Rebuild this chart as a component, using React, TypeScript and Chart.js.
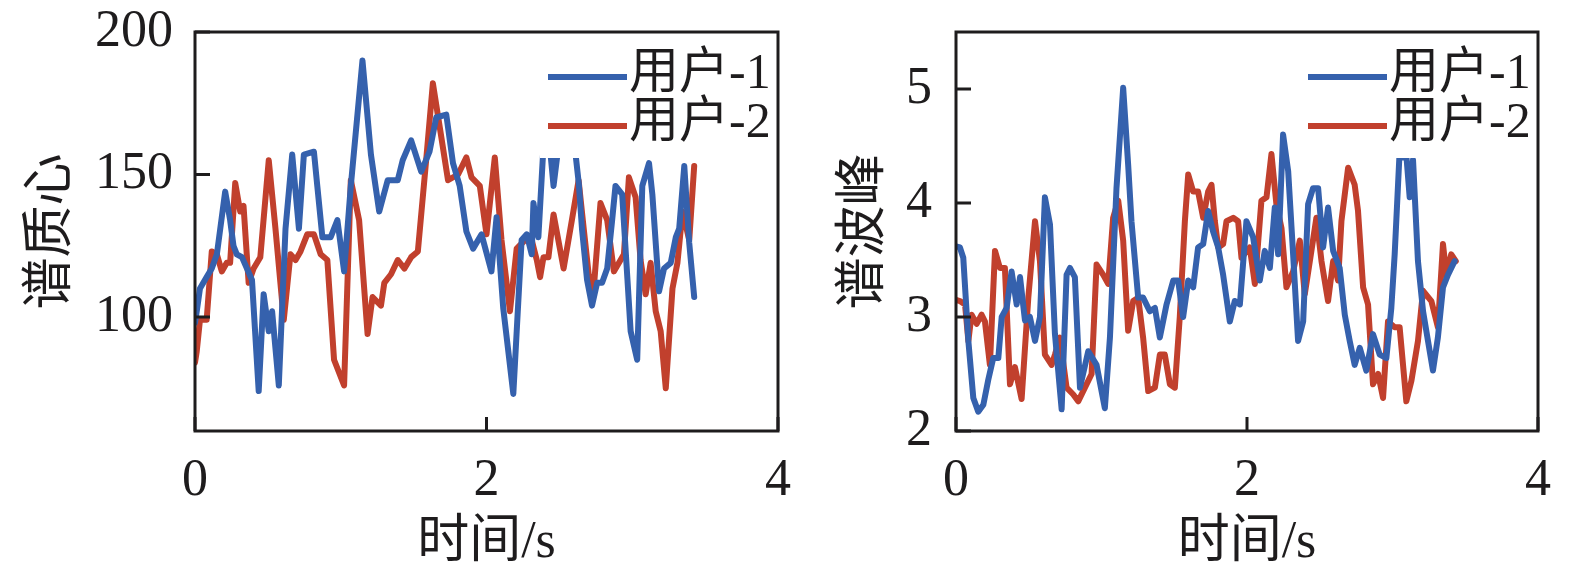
import { useEffect, useRef } from "react";
import { Chart, registerables } from "chart.js";
import type { Plugin, Scale } from "chart.js";
Chart.register(...registerables);

const timeTicks = [0, 2, 4];
const centroidTicks = [100, 150, 200];
const peakTicks = [2, 3, 4, 5];
const legendLabels = ["用户-1", "用户-2"];
const lineColors = ["#3561ad", "#c1402d"];

// 谱质心
const centroidTime1 = [0, 0.012, 0.034, 0.08, 0.115, 0.15, 0.207, 0.241, 0.264, 0.287, 0.322, 0.391, 0.437, 0.471, 0.506, 0.529, 0.575, 0.621, 0.667, 0.713, 0.747, 0.816, 0.839, 0.874, 0.931, 0.977, 1.023, 1.069, 1.149, 1.207, 1.264, 1.322, 1.391, 1.425, 1.483, 1.552, 1.609, 1.655, 1.724, 1.77, 1.816, 1.862, 1.908, 1.966, 2.034, 2.069, 2.115, 2.184, 2.241, 2.276, 2.31, 2.322, 2.356, 2.391, 2.425, 2.46, 2.494, 2.55, 2.609, 2.633, 2.655, 2.69, 2.724, 2.759, 2.793, 2.828, 2.862, 2.885, 2.931, 2.989, 3.034, 3.069, 3.115, 3.138, 3.184, 3.218, 3.264, 3.299, 3.322, 3.357, 3.391, 3.425];
const centroidUser1 = [98, 102, 110, 114, 117, 122, 144, 134, 125, 122, 121, 113, 74, 108, 95, 102, 76, 131, 157, 131, 157, 158, 146, 128, 128, 134, 116, 146, 190, 157, 137, 148, 148, 155, 162, 151, 158, 170, 171, 154, 146, 130, 124, 129, 116, 135, 103, 73, 127, 129, 122, 140, 128, 160, 165, 146, 160, 163, 158, 147, 131, 113, 104, 112, 112, 117, 134, 146, 143, 95, 85, 146, 154, 143, 109, 117, 119, 128, 131, 153, 126, 107];
const centroidTime2 = [0, 0.012, 0.034, 0.08, 0.115, 0.15, 0.184, 0.218, 0.241, 0.276, 0.31, 0.333, 0.368, 0.402, 0.448, 0.506, 0.552, 0.609, 0.655, 0.69, 0.724, 0.77, 0.816, 0.862, 0.908, 0.954, 1.023, 1.069, 1.126, 1.184, 1.218, 1.276, 1.299, 1.345, 1.391, 1.437, 1.483, 1.529, 1.586, 1.632, 1.678, 1.736, 1.805, 1.862, 1.897, 1.954, 2.0, 2.057, 2.103, 2.161, 2.207, 2.264, 2.31, 2.345, 2.368, 2.391, 2.425, 2.46, 2.529, 2.586, 2.632, 2.667, 2.701, 2.736, 2.782, 2.828, 2.874, 2.92, 2.943, 2.977, 3.023, 3.057, 3.092, 3.126, 3.161, 3.195, 3.23, 3.276, 3.31, 3.345, 3.391, 3.425];
const centroidUser2 = [84, 88, 99, 99, 123, 122, 116, 119, 119, 147, 137, 139, 112, 117, 121, 155, 131, 99, 122, 120, 123, 129, 129, 122, 120, 85, 76, 148, 134, 94, 107, 104, 112, 115, 120, 117, 121, 123, 155, 182, 167, 148, 150, 156, 149, 146, 129, 156, 127, 102, 124, 127, 127, 120, 114, 121, 121, 136, 117, 134, 148, 131, 115, 110, 140, 134, 116, 120, 122, 149, 142, 120, 108, 119, 102, 95, 75, 110, 119, 137, 127, 153];

// 谱波峰
const peakTime1 = [0, 0.027, 0.05, 0.085, 0.119, 0.153, 0.188, 0.222, 0.256, 0.291, 0.314, 0.348, 0.382, 0.417, 0.44, 0.474, 0.508, 0.543, 0.577, 0.611, 0.646, 0.68, 0.726, 0.76, 0.783, 0.817, 0.852, 0.909, 0.966, 1.023, 1.058, 1.103, 1.149, 1.183, 1.206, 1.252, 1.286, 1.332, 1.367, 1.401, 1.447, 1.493, 1.527, 1.561, 1.596, 1.63, 1.664, 1.699, 1.733, 1.767, 1.802, 1.836, 1.882, 1.916, 1.951, 1.996, 2.042, 2.088, 2.122, 2.157, 2.191, 2.214, 2.248, 2.283, 2.317, 2.351, 2.386, 2.42, 2.454, 2.489, 2.523, 2.557, 2.592, 2.637, 2.672, 2.706, 2.74, 2.775, 2.82, 2.866, 2.912, 2.958, 2.992, 3.015, 3.049, 3.072, 3.095, 3.118, 3.141, 3.175, 3.21, 3.244, 3.278, 3.312, 3.347, 3.381, 3.427];
const peakUser1 = [3.62, 3.61, 3.52, 2.79, 2.29, 2.17, 2.23, 2.45, 2.64, 2.64, 3.0, 3.08, 3.4, 3.11, 3.35, 2.97, 3.0, 2.79, 3.0, 4.05, 3.81, 2.85, 2.19, 3.37, 3.43, 3.35, 2.38, 2.7, 2.58, 2.2, 2.82, 4.13, 5.01, 4.34, 3.84, 3.17, 3.17, 3.05, 3.08, 2.82, 3.11, 3.32, 3.32, 3.0, 3.32, 3.26, 3.61, 3.64, 3.93, 3.75, 3.61, 3.37, 2.96, 3.14, 3.11, 3.84, 3.7, 3.32, 3.58, 3.43, 3.96, 3.55, 4.6, 4.28, 3.55, 2.79, 2.96, 3.99, 4.13, 4.13, 3.61, 3.96, 3.58, 3.43, 3.02, 2.79, 2.58, 2.73, 2.53, 2.85, 2.67, 2.64, 3.08, 3.55, 4.45, 4.4, 4.42, 4.05, 4.38, 3.49, 3.05, 2.79, 2.53, 2.82, 3.26, 3.37, 3.49];
const peakTime2 = [0, 0.027, 0.062, 0.085, 0.107, 0.142, 0.176, 0.199, 0.233, 0.268, 0.302, 0.336, 0.371, 0.405, 0.451, 0.497, 0.543, 0.577, 0.611, 0.657, 0.68, 0.714, 0.76, 0.806, 0.84, 0.886, 0.932, 0.966, 1.012, 1.046, 1.08, 1.115, 1.149, 1.183, 1.218, 1.252, 1.286, 1.321, 1.367, 1.401, 1.435, 1.47, 1.504, 1.538, 1.573, 1.596, 1.63, 1.664, 1.699, 1.733, 1.756, 1.779, 1.802, 1.836, 1.859, 1.905, 1.939, 1.962, 2.019, 2.054, 2.099, 2.134, 2.168, 2.202, 2.237, 2.271, 2.317, 2.363, 2.397, 2.432, 2.477, 2.512, 2.557, 2.592, 2.626, 2.649, 2.695, 2.74, 2.763, 2.798, 2.832, 2.866, 2.901, 2.935, 2.969, 3.015, 3.049, 3.095, 3.13, 3.175, 3.21, 3.267, 3.312, 3.347, 3.37, 3.404, 3.435];
const peakUser2 = [3.15, 3.14, 3.11, 2.79, 3.02, 2.94, 3.02, 2.96, 2.58, 3.58, 3.43, 3.43, 2.41, 2.56, 2.28, 3.17, 3.84, 3.49, 2.67, 2.58, 2.67, 2.82, 2.38, 2.32, 2.26, 2.38, 2.5, 3.46, 3.37, 3.29, 3.87, 4.02, 3.67, 2.88, 3.14, 3.17, 2.82, 2.35, 2.38, 2.67, 2.67, 2.41, 2.38, 3.0, 3.84, 4.25, 4.1, 4.1, 3.87, 4.1, 4.16, 3.84, 3.61, 3.64, 3.84, 3.87, 3.84, 3.52, 3.61, 3.29, 4.02, 4.05, 4.43, 3.99, 3.78, 3.26, 3.4, 3.67, 3.2, 3.49, 3.87, 3.49, 3.14, 3.49, 3.32, 3.84, 4.31, 4.16, 3.93, 3.26, 3.11, 2.41, 2.5, 2.29, 2.96, 2.91, 2.91, 2.26, 2.44, 2.79, 3.23, 3.14, 2.91, 3.64, 3.37, 3.55, 3.49];

const serif = '"Liberation Serif", "Noto Sans CJK SC", serif';
const ink = "#1e1c1d";

// stop the layout from reserving extra room for overhanging tick labels
const noOverhang = (scale: Scale) => {
  scale.paddingTop = 0;
  scale.paddingBottom = 0;
  scale.paddingLeft = 0;
  scale.paddingRight = 0;
};

// white legend box, frame and inward tick marks, drawn over the lines
const framePlugin: Plugin<"line"> = {
  id: "frameAndLegend",
  afterDraw(chart) {
    const { ctx, chartArea: a } = chart;
    ctx.save();
    ctx.fillStyle = "#ffffff";
    ctx.fillRect(a.right - 238, a.top + 2, 236, 124);
    chart.data.datasets.forEach((ds, i) => {
      const y = a.top + 45 + i * 49;
      ctx.strokeStyle = ds.borderColor as string;
      ctx.lineWidth = 6;
      ctx.beginPath();
      ctx.moveTo(a.right - 230, y);
      ctx.lineTo(a.right - 151, y);
      ctx.stroke();
      ctx.fillStyle = ink;
      ctx.font = `50px ${serif}`;
      ctx.textBaseline = "middle";
      ctx.textAlign = "left";
      ctx.fillText(ds.label ?? "", a.right - 149, y - 2);
    });

    ctx.strokeStyle = ink;
    ctx.lineWidth = 3;
    ctx.strokeRect(a.left, a.top, a.right - a.left, a.bottom - a.top);
    ctx.beginPath();
    chart.scales.x.ticks.forEach((t) => {
      const px = chart.scales.x.getPixelForValue(t.value);
      ctx.moveTo(px, a.bottom);
      ctx.lineTo(px, a.bottom - 14);
    });
    chart.scales.y.ticks.forEach((t) => {
      const py = chart.scales.y.getPixelForValue(t.value);
      ctx.moveTo(a.left, py);
      ctx.lineTo(a.left + 15, py);
    });
    ctx.stroke();
    ctx.restore();
  },
};

type Series = { t: number[]; v: number[] };

const Panel = ({
  left,
  width,
  axisWidth,
  padRight,
  titleOffset,
  labelPadding,
  yTitle,
  yMin,
  yMax,
  yTicks,
  series,
}: {
  left: number;
  width: number;
  axisWidth: number;
  padRight: number;
  titleOffset: number;
  labelPadding: number;
  yTitle: string;
  yMin: number;
  yMax: number;
  yTicks: number[];
  series: Series[];
}) => {
  const canvasRef = useRef<HTMLCanvasElement | null>(null);
  useEffect(() => {
    if (!canvasRef.current) return;

    const chartInstance = new Chart(canvasRef.current, {
      type: "line",
      data: {
        datasets: series.map((s, i) => ({
          label: legendLabels[i],
          data: s.t.slice(0, s.v.length).map((t, j) => ({ x: t, y: s.v[j] })),
          borderColor: lineColors[i],
          borderWidth: 6,
          pointRadius: 0,
          pointHoverRadius: 0,
          tension: 0,
          borderJoinStyle: "round" as const,
          borderCapStyle: "round" as const,
        })),
      },
      options: {
        animation: false,
        responsive: false,
        devicePixelRatio: 1,
        layout: { padding: { top: 32, right: padRight, bottom: 0, left: 0 } },
        plugins: {
          legend: { display: false },
          tooltip: { enabled: false },
        },
        scales: {
          x: {
            type: "linear",
            min: 0,
            max: 4,
            afterBuildTicks: (scale) => {
              scale.ticks = timeTicks.map((value) => ({ value }));
            },
            afterFit: (scale) => {
              scale.height = 147;
              noOverhang(scale);
            },
            grid: { display: false, drawTicks: false },
            border: { display: false },
            ticks: {
              padding: 19,
              maxRotation: 0,
              color: ink,
              font: { family: serif, size: 52 },
            },
            title: {
              display: true,
              text: "时间/s",
              color: ink,
              font: { family: serif, size: 52 },
              padding: { top: 0, bottom: 3 },
            },
          },
          y: {
            min: yMin,
            max: yMax,
            afterBuildTicks: (scale) => {
              scale.ticks = yTicks.map((value) => ({ value }));
            },
            afterFit: (scale) => {
              scale.width = axisWidth;
              noOverhang(scale);
            },
            grid: { display: false, drawTicks: false },
            border: { display: false },
            ticks: {
              padding: labelPadding,
              color: ink,
              font: { family: serif, size: 52 },
            },
            title: {
              display: true,
              text: yTitle,
              color: ink,
              font: { family: serif, size: 52 },
              padding: { top: titleOffset, bottom: 0 },
            },
          },
        },
      },
      plugins: [framePlugin],
    });

    return () => {
      chartInstance.destroy();
    };
  }, [series]);

  return (
    <canvas
      ref={canvasRef}
      width={width}
      height={578}
      style={{ position: "absolute", left, top: 0, width, height: 578 }}
    />
  );
};

const centroidSeries: Series[] = [
  { t: centroidTime1, v: centroidUser1 },
  { t: centroidTime2, v: centroidUser2 },
];
const peakSeries: Series[] = [
  { t: peakTime1, v: peakUser1 },
  { t: peakTime2, v: peakUser2 },
];

export default function App() {
  return (
    <div style={{ position: "absolute", left: 0, top: 0, width: 1575, height: 578, background: "#fff" }}>
      <Panel
        left={0}
        width={795}
        axisWidth={195}
        padRight={17}
        titleOffset={21}
        labelPadding={22}
        yTitle="谱质心"
        yMin={60}
        yMax={200}
        yTicks={centroidTicks}
        series={centroidSeries}
      />
      <Panel
        left={795}
        width={780}
        axisWidth={161}
        padRight={37}
        titleOffset={39}
        labelPadding={24}
        yTitle="谱波峰"
        yMin={2}
        yMax={5.5}
        yTicks={peakTicks}
        series={peakSeries}
      />
    </div>
  );
}
